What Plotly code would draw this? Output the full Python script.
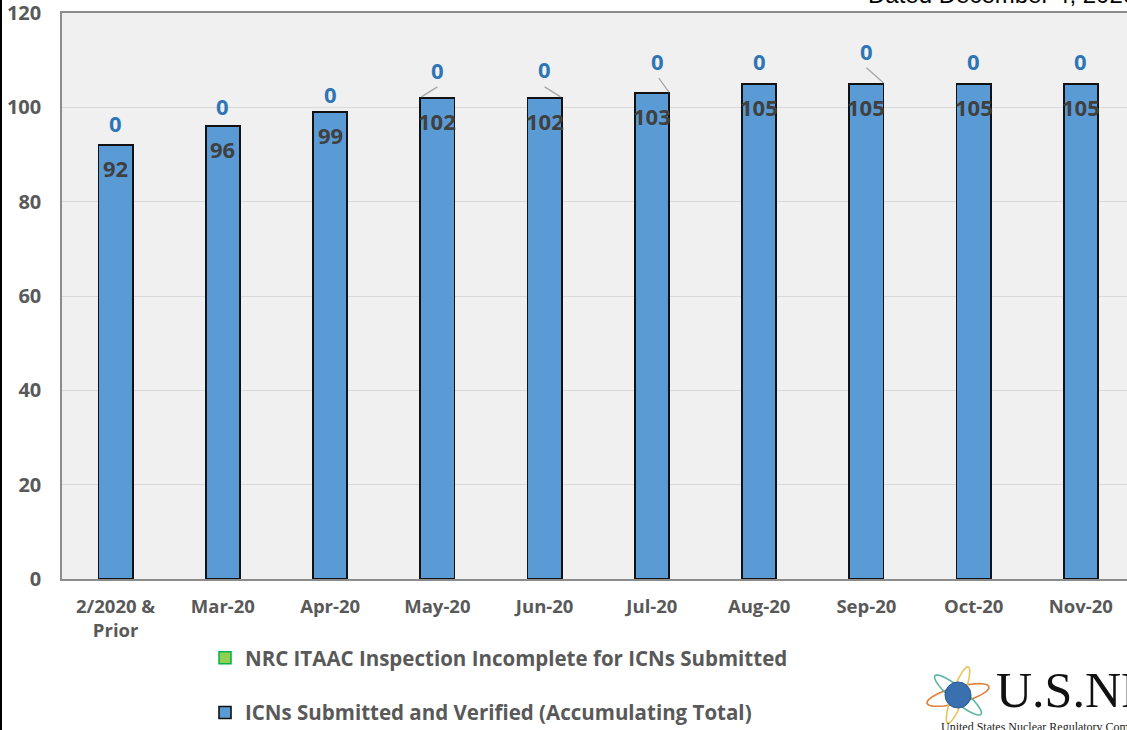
import numpy as np
import plotly.graph_objects as go

# ---------------- data ----------------
categories = ["2/2020 &<br>Prior", "Mar-20", "Apr-20", "May-20", "Jun-20",
              "Jul-20", "Aug-20", "Sep-20", "Oct-20", "Nov-20"]
verified_total = [92, 96, 99, 102, 102, 103, 105, 105, 105, 105]
inspection_incomplete = [0, 0, 0, 0, 0, 0, 0, 0, 0, 0]
y_ticks = [0, 20, 40, 60, 80, 100, 120]
series_names = ["ICNs Submitted and Verified (Accumulating Total)",
                "NRC ITAAC Inspection Incomplete for ICNs Submitted"]
dated_text = "Dated December 4, 2020"

# ---------------- layout constants ----------------
W, H = 1127, 730
ML, MR, MT, MB = 62, 0, 13, 151
FONT = "Open Sans"
idx = list(range(len(categories)))

# label placement (pixels above stacked top), Excel-like manual offsets
lab_dy = [22, 20, 18, 28, 29, 32, 23, 33, 23, 23]
lab_dx = [0, 0, 0, 0, 0, 6, 0, 0, 0, 0]
leaders = {3: (0, 11, -16, 1), 4: (0, 11, 16, 1), 5: (7, 15, 17, 1), 7: (0, 16, 17, 1)}

fig = go.Figure()
fig.add_trace(go.Bar(
    x=idx, y=inspection_incomplete, name=series_names[1], width=0.32,
    marker=dict(color="#92D050", line=dict(color="#00B050", width=1.5)),
    legendgroup="b", legendrank=1, hoverinfo="y"))
fig.add_trace(go.Bar(
    x=idx, y=verified_total, name=series_names[0], width=0.32,
    marker=dict(color="#5B9BD5", line=dict(color="#111111", width=1.6)),
    legendgroup="a", legendrank=2, hoverinfo="y"))

annotations = []
shapes = []
for i in idx:
    top = verified_total[i] + inspection_incomplete[i]
    annotations.append(dict(x=i, y=verified_total[i], xref="x", yref="y",
                            text=str(verified_total[i]), showarrow=False,
                            yshift=-23, font=dict(family=FONT, size=22, color="#404040", weight="bold")))
    annotations.append(dict(x=i, y=top, xref="x", yref="y",
                            text=str(inspection_incomplete[i]), showarrow=False,
                            yshift=lab_dy[i], xshift=lab_dx[i],
                            font=dict(family=FONT, size=22, color="#2E75B6", weight="bold")))
    if i in leaders:
        x0, y0, x1, y1 = leaders[i]
        shapes.append(dict(type="line", xref="x", yref="y", xsizemode="pixel", ysizemode="pixel",
                           xanchor=i, yanchor=top, x0=x0, y0=y0, x1=x1, y1=y1,
                           line=dict(color="#A6A6A6", width=1.3)))

PW = W - ML - MR
PH = H - MT - MB


def px(xp):
    return (xp - ML) / PW


def py(yp):
    return (H - MB - yp) / PH


annotations.append(dict(x=px(866), y=1, xref="paper", yref="paper", xanchor="left", yanchor="bottom",
                        yshift=3, text=dated_text, showarrow=False,
                        font=dict(family="Liberation Sans", size=24, color="#000000")))

# logo approximation
annotations.append(dict(x=px(994), y=py(690), xref="paper", yref="paper", xanchor="left", yanchor="middle",
                        text="U.S.NRC", showarrow=False,
                        font=dict(family="Liberation Serif", size=50, color="#111111")))
annotations.append(dict(x=px(939), y=py(727), xref="paper", yref="paper", xanchor="left", yanchor="middle",
                        text="United States Nuclear Regulatory Commission", showarrow=False,
                        font=dict(family="Liberation Serif", size=12, color="#222222")))


def ellipse_path(cx, cy, a, b, ang):
    t = np.linspace(0, 2 * np.pi, 60)
    ca, sa = np.cos(np.radians(ang)), np.sin(np.radians(ang))
    xs = cx + a * np.cos(t) * ca - b * np.sin(t) * sa
    ys = cy + a * np.cos(t) * sa + b * np.sin(t) * ca
    pts = [f"{px(x):.5f},{py(y):.5f}" for x, y in zip(xs, ys)]
    return "M" + " L".join(pts) + " Z"


for (a, b, ang, col) in [(32, 8, -15, "#E0803A"), (30, 7, 40, "#5BB5A0"), (30, 6, -70, "#E8C45A")]:
    shapes.append(dict(type="path", xref="paper", yref="paper", path=ellipse_path(958, 695, a, b, ang),
                       line=dict(color=col, width=1.6), fillcolor="rgba(0,0,0,0)"))
shapes.append(dict(type="circle", xref="paper", yref="paper",
                   x0=px(945), x1=px(971), y0=py(682), y1=py(708),
                   fillcolor="#3A6FB0", line=dict(color="#2A5A98", width=1)))

# left frame line of the slide
shapes.append(dict(type="line", xref="paper", yref="paper", x0=px(1), x1=px(1), y0=py(-5), y1=py(760),
                   line=dict(color="#000000", width=2)))

fig.update_layout(
    width=W, height=H, autosize=False,
    margin=dict(l=ML, r=MR, t=MT, b=MB, pad=0, autoexpand=False),
    barmode="stack",
    paper_bgcolor="#FFFFFF", plot_bgcolor="#F0F0F0",
    font=dict(family=FONT, color="#595959"),
    showlegend=True,
    legend=dict(orientation="v", x=px(205), y=py(638), xanchor="left", yanchor="top",
                font=dict(family=FONT, size=20.5, color="#595959", weight="bold"),
                tracegroupgap=25, bgcolor="rgba(0,0,0,0)"),
    annotations=annotations, shapes=shapes,
)
fig.update_xaxes(range=[-0.5, 9.43], tickmode="array", tickvals=idx, ticktext=categories,
                 showline=True, mirror=True, linecolor="#8C8C8C", linewidth=2,
                 showgrid=False, zeroline=False, ticks="", ticklabelstandoff=10,
                 ticklabeloverflow="allow", layer="above traces",
                 tickfont=dict(family=FONT, size=18.5, color="#595959", weight="bold"))
fig.update_yaxes(range=[0, 120], tickmode="array", tickvals=y_ticks,
                 showline=True, mirror=True, linecolor="#8C8C8C", linewidth=1.5,
                 showgrid=True, gridcolor="#D9D9D9", gridwidth=1.2, zeroline=False,
                 ticks="", ticklabelstandoff=15, ticklabeloverflow="allow",
                 tickfont=dict(family=FONT, size=20, color="#595959", weight="bold"))

fig.write_html("out.html", config={"displayModeBar": False},
               post_script="document.body.style.margin='0px';document.body.style.overflow='hidden';")
